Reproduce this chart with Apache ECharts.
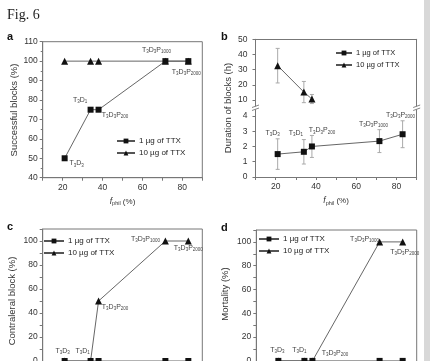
<!DOCTYPE html>
<html><head><meta charset="utf-8">
<script src="https://cdn.jsdelivr.net/npm/echarts@6/dist/echarts.min.js"></script>
<style>html,body{margin:0;padding:0;background:#fff}#c{width:430px;height:361px}</style>
</head><body><div id="c"></div><script>
// ---------- DATA ----------
const fPhil = [21, 34, 38, 71.5, 83];
const formulations = ['T3D3', 'T3D1', 'T3D3P200', 'T3D3P1000', 'T3D3P2000'];
const seriesNames = ['1 µg of TTX', '10 µg of TTX'];
const successLow = [50, 75, 75, 100, 100];
const successHigh = [100, 100, 100, 100, 100];
const durationLow = [1.5, 1.65, 2.0, 2.35, 2.8];
const durationLowErr = [1.0, 0.8, 0.72, 0.75, 0.88];
const durationHighX = [21, 34, 38];
const durationHigh = [32.6, 15.2, 10.6];
const durationHighErr = [11.4, 7, 3];
const contralateralLow = [0, 0, 0, 0, 0];
const contralateralHigh = [0, 0, 50, 100, 100];
const mortalityLow = [0, 0, 0, 0, 0];
const mortalityHigh = [0, 0, 0, 100, 100];
const xTickLabels = [20, 40, 60, 80];
const durationUpperTicks = [10, 20, 30, 40, 50];
const durationLowerTicks = [0, 1, 2, 3, 4];
const percentTicks = [0, 20, 40, 60, 80, 100];

// ---------- LAYOUT (label offsets in px) ----------
const offA = [[12, 5], [-10.5, -10], [16.5, 5.5], [-9, -11], [-2, 10.5]];
const offB = [[-5, -21], [-8, -19], [10, -16], [-6, -17], [-2, -19]];
const offC = [[-2, -10], [-8, -10], [16.5, 6], [-20, -2], [0, 7]];
const offD = [[-1, -11], [-5, -11], [22.5, -8], [-15, -3], [2, 10]];

const FONT = 'Liberation Sans';
const AX = '#777';
const TXT = '#333';

const subRich = {
  m: { fontSize: 7, color: '#444', lineHeight: 9, fontFamily: FONT },
  s: { fontSize: 4.5, color: '#444', lineHeight: 5, verticalAlign: 'bottom', fontFamily: FONT }
};
function fmtFormulation(str) {
  return str.replace(/([A-Z])(\d+)/g, '{m|$1}{s|$2}');
}

function xAxisBase(gridIndex, showLabels) {
  return {
    type: 'value', gridIndex, min: 10, max: 90, interval: 10,
    axisLine: { show: true, onZero: false, lineStyle: { color: AX, width: 1 } },
    axisTick: { show: true, length: 3, lineStyle: { color: AX } },
    axisLabel: {
      show: showLabels, fontSize: 8.5, color: TXT, fontFamily: FONT, margin: 5,
      formatter: v => (xTickLabels.indexOf(v) >= 0 ? String(v) : '')
    },
    splitLine: { show: false },
    name: showLabels ? '{i|f}{s|phil} (%)' : '',
    nameLocation: 'middle', nameGap: 19,
    nameTextStyle: {
      fontSize: 8, color: TXT, fontFamily: FONT,
      rich: {
        i: { fontSize: 8.5, fontStyle: 'italic', color: TXT, fontFamily: FONT, lineHeight: 10 },
        s: { fontSize: 5.5, color: TXT, fontFamily: FONT, lineHeight: 6, verticalAlign: 'bottom' }
      }
    }
  };
}
function frameAxis(kind, gridIndex, position) {
  const o = {
    type: 'value', gridIndex, position,
    axisLine: { show: true, onZero: false, lineStyle: { color: AX, width: 1 } },
    axisTick: { show: false }, axisLabel: { show: false }, splitLine: { show: false }
  };
  if (kind === 'x') { o.min = 10; o.max = 90; }
  return o;
}
function yAxisBase(gridIndex, extra) {
  return Object.assign({
    type: 'value', gridIndex, position: 'left',
    axisLine: { show: true, onZero: false, lineStyle: { color: AX, width: 1 } },
    axisTick: { show: true, length: 3, lineStyle: { color: AX } },
    minorTick: { show: false },
    axisLabel: { fontSize: 8.5, color: TXT, fontFamily: FONT, margin: 5 },
    splitLine: { show: false }
  }, extra);
}

function lineSeries(nameIdx, xIdx, yIdx, xs, ys, offs) {
  const tri = nameIdx === 1;
  return {
    type: 'line', name: seriesNames[nameIdx], xAxisIndex: xIdx, yAxisIndex: yIdx,
    symbol: tri ? 'triangle' : 'rect', symbolSize: tri ? 7 : 6,
    itemStyle: { color: '#111' },
    lineStyle: { color: '#555', width: 0.9 },
    z: 3,
    label: {
      show: false, position: 'inside', formatter: p => fmtFormulation(formulations[p.dataIndex]),
      rich: subRich
    },
    data: xs.map((x, i) => {
      const it = { value: [x, ys[i]] };
      if (offs) it.label = { show: true, offset: offs[i] };
      return it;
    })
  };
}
function errorSeries(xIdx, yIdx, xs, ys, errs) {
  return {
    type: 'custom', xAxisIndex: xIdx, yAxisIndex: yIdx, silent: true, z: 1,
    encode: { x: 0, y: [1, 2] },
    data: xs.map((x, i) => [x, ys[i] - errs[i], ys[i] + errs[i]]),
    renderItem: (params, api) => {
      const lo = api.coord([api.value(0), api.value(1)]);
      const hi = api.coord([api.value(0), api.value(2)]);
      const st = { stroke: '#aaa', lineWidth: 1 };
      const w = 2;
      return {
        type: 'group', children: [
          { type: 'line', shape: { x1: lo[0], y1: lo[1], x2: hi[0], y2: hi[1] }, style: st },
          { type: 'line', shape: { x1: lo[0] - w, y1: lo[1], x2: lo[0] + w, y2: lo[1] }, style: st },
          { type: 'line', shape: { x1: hi[0] - w, y1: hi[1], x2: hi[0] + w, y2: hi[1] }, style: st }
        ]
      };
    }
  };
}
function legendAt(left, top, fontSize, itemWidth) {
  return {
    data: seriesNames, left, top, orient: 'vertical', selectedMode: false,
    itemWidth, itemHeight: 6, itemGap: 4, padding: 0,
    textStyle: { fontSize, color: '#222', fontFamily: FONT, padding: [0, 0, 0, -1] }
  };
}
function vText(x, y, text) {
  return { type: 'text', x, y, rotation: Math.PI / 2,
    style: { text, fontSize: 9.5, fill: TXT, fontFamily: FONT, align: 'center', verticalAlign: 'middle' } };
}
function breakMark(x, y) {
  return { type: 'group', children: [
    { type: 'rect', shape: { x: x - 4, y: y - 2, width: 8, height: 4 }, style: { fill: '#fff' } },
    { type: 'line', shape: { x1: x - 3.5, y1: y - 0.5, x2: x + 3.5, y2: y - 3 }, style: { stroke: AX, lineWidth: 0.9 } },
    { type: 'line', shape: { x1: x - 3.5, y1: y + 2.5, x2: x + 3.5, y2: y } , style: { stroke: AX, lineWidth: 0.9 } }
  ] };
}

const gridBase = { outerBoundsMode: 'none', containLabel: false };
const gridA = Object.assign({ left: 42.7, top: 41.7, width: 159.6, height: 136, show: true, borderColor: AX, borderWidth: 1 }, gridBase);
const gridBU = Object.assign({ left: 255.5, top: 39.3, width: 161.2, height: 66.7 }, gridBase);
const gridBL = Object.assign({ left: 255.5, top: 109.8, width: 161.2, height: 67.2 }, gridBase);
const gridC = Object.assign({ left: 42.7, top: 229, width: 159.6, height: 156, show: true, borderColor: AX, borderWidth: 1 }, gridBase);
const gridD = Object.assign({ left: 256.3, top: 230, width: 160.4, height: 154.7, show: true, borderColor: AX, borderWidth: 1 }, gridBase);

const labB = { fontSize: 8.5, color: TXT, fontFamily: FONT, margin: 8 };

const option = {
  animation: false,
  backgroundColor: '#fff',
  grid: [gridA, gridBU, gridBL, gridC, gridD],
  xAxis: [
    xAxisBase(0, true),              // 0 a
    frameAxis('x', 1, 'top'),        // 1 b upper (top frame)
    xAxisBase(2, true),              // 2 b lower
    xAxisBase(3, false),             // 3 c
    xAxisBase(4, false)              // 4 d
  ],
  yAxis: [
    yAxisBase(0, { min: 40, max: 110, interval: 10, minorTick: { show: true, splitNumber: 2, length: 2, lineStyle: { color: AX } } }),
    yAxisBase(1, { min: 6, max: 50, axisLabel: Object.assign({ customValues: durationUpperTicks }, labB), axisTick: { show: true, length: 3, lineStyle: { color: AX }, customValues: durationUpperTicks } }),
    frameAxis('y', 1, 'right'),
    yAxisBase(2, { min: 0, max: 4.4, axisLabel: Object.assign({ customValues: durationLowerTicks }, labB), axisTick: { show: true, length: 3, lineStyle: { color: AX }, customValues: durationLowerTicks } }),
    frameAxis('y', 2, 'right'),
    yAxisBase(3, { min: -20, max: 110, interval: 10, axisLabel: { fontSize: 8.5, color: TXT, fontFamily: FONT, margin: 5, customValues: percentTicks } }),
    yAxisBase(4, { min: -20, max: 110, interval: 10, axisLabel: { fontSize: 8.5, color: TXT, fontFamily: FONT, margin: 5, customValues: percentTicks } })
  ],
  legend: [
    legendAt(116, 137, 8, 18),
    legendAt(335, 49, 7.5, 16),
    legendAt(43, 237, 8, 20),
    legendAt(258, 235, 8, 20)
  ],
  series: [
    lineSeries(0, 0, 0, fPhil, successLow, offA),
    lineSeries(1, 0, 0, fPhil, successHigh, null),
    errorSeries(2, 3, fPhil, durationLow, durationLowErr),
    errorSeries(1, 1, durationHighX, durationHigh, durationHighErr),
    lineSeries(0, 2, 3, fPhil, durationLow, offB),
    lineSeries(1, 1, 1, durationHighX, durationHigh, null),
    lineSeries(0, 3, 5, fPhil, contralateralLow, null),
    lineSeries(1, 3, 5, fPhil, contralateralHigh, offC),
    lineSeries(0, 4, 6, fPhil, mortalityLow, null),
    lineSeries(1, 4, 6, fPhil, mortalityHigh, offD)
  ],
  graphic: [
    { type: 'rect', shape: { x: 424, y: 0, width: 6, height: 361 }, style: { fill: '#d8d8d8' } },
    { type: 'text', x: 7, y: 8, style: { text: 'Fig. 6', fontSize: 14, fill: '#222', fontFamily: 'Liberation Serif' } },
    { type: 'text', x: 7, y: 31, style: { text: 'a', fontSize: 11, fontWeight: 'bold', fill: '#111', fontFamily: FONT } },
    { type: 'text', x: 221, y: 31, style: { text: 'b', fontSize: 11, fontWeight: 'bold', fill: '#111', fontFamily: FONT } },
    { type: 'text', x: 7, y: 221, style: { text: 'c', fontSize: 11, fontWeight: 'bold', fill: '#111', fontFamily: FONT } },
    { type: 'text', x: 221, y: 222, style: { text: 'd', fontSize: 11, fontWeight: 'bold', fill: '#111', fontFamily: FONT } },
    vText(14, 110, 'Successful blocks (%)'),
    vText(228, 108, 'Duration of blocks (h)'),
    vText(12, 301, 'Contraleral block (%)'),
    vText(225, 294, 'Mortality (%)'),
    breakMark(255.5, 108),
    breakMark(416.7, 108)
  ]
};
const chart = echarts.init(document.getElementById('c'), null, { renderer: 'canvas' });
chart.setOption(option);
</script></body></html>
